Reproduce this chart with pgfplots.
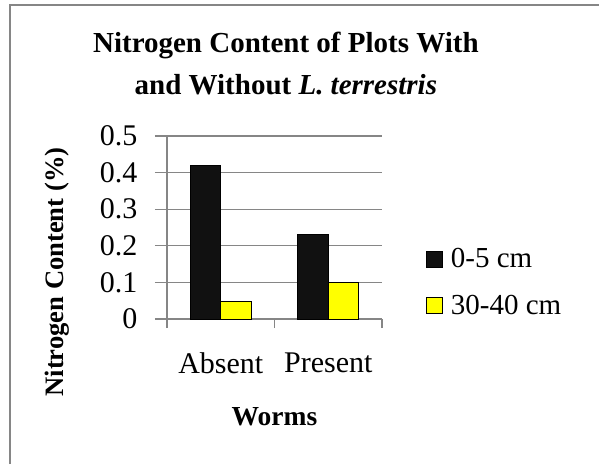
\documentclass[border=0pt]{standalone}
\usepackage{fontspec}
\setmainfont{Liberation Serif}
\usepackage{pgfplots}
\pgfplotsset{compat=1.18}
\definecolor{gridgray}{RGB}{134,134,134}
\definecolor{barblack}{RGB}{17,17,17}
\definecolor{baryellow}{RGB}{255,255,0}
\begin{document}
\begin{tikzpicture}[x=1pt,y=1pt]
\useasboundingbox (0,0) rectangle (599,464);
\draw[gridgray, line width=1.6pt] (10,0) -- (10,459) -- (599,459);
\begin{axis}[
  at={(167pt,145pt)}, anchor=south west,
  width=215pt, height=183pt, scale only axis,
  xmin=0, xmax=2, ymin=0, ymax=0.5,
  axis x line*=bottom, axis y line*=left,
  axis line style={gridgray, line width=1.2pt},
  ymajorgrids, grid style={gridgray, line width=1.2pt},
  ytick={0,0.1,0.2,0.3,0.4,0.5},
  yticklabels={0,0.1,0.2,0.3,0.4,0.5},
  xtick={0.5,1.5}, xticklabels={Absent,Present},
  minor xtick={0,1,2},
  tick align=outside,
  ytick style={gridgray, line width=1.2pt},
  xtick style={draw=none},
  minor x tick style={draw=gridgray, line width=1.2pt},
  minor tick length=9pt,
  major tick length=12pt,
  ticklabel style={font=\fontsize{30}{30}\selectfont},
  yticklabel style={anchor=east, xshift=-14pt},
  xticklabel style={anchor=north, yshift=-18pt},
  ybar=0pt, bar width=30.5pt,
  title={Nitrogen Content of Plots With\\and Without \textit{L. terrestris}},
  title style={font=\bfseries\fontsize{29}{42}\selectfont, align=center, at={(axis description cs:0.553,1)}, anchor=south, yshift=32pt},
  ylabel={Nitrogen Content (\%)},
  ylabel style={font=\bfseries\fontsize{26.6}{30}\selectfont, at={(axis description cs:-0.512,0.257)}, anchor=center},
  xlabel={Worms},
  xlabel style={font=\bfseries\fontsize{27.5}{30}\selectfont, at={(axis description cs:0.5,-0.536)}, anchor=center},
  legend style={draw=none, fill=none, at={(axis description cs:1.19,0.20)}, anchor=west,
    font=\fontsize{29}{34}\selectfont, row sep=22pt, legend cell align=left},
  legend image code/.code={\draw[#1] (0pt,-8pt) rectangle (16pt,8pt);},
]
\addplot[fill=barblack, draw=black, line width=0.8pt] coordinates {(0.5,0.42) (1.5,0.23)};
\addplot[fill=baryellow, draw=black, line width=0.8pt] coordinates {(0.5,0.047) (1.5,0.1)};
\legend{\hspace{6pt}0-5 cm, \hspace{6pt}30-40 cm}
\end{axis}
\end{tikzpicture}
\end{document}
